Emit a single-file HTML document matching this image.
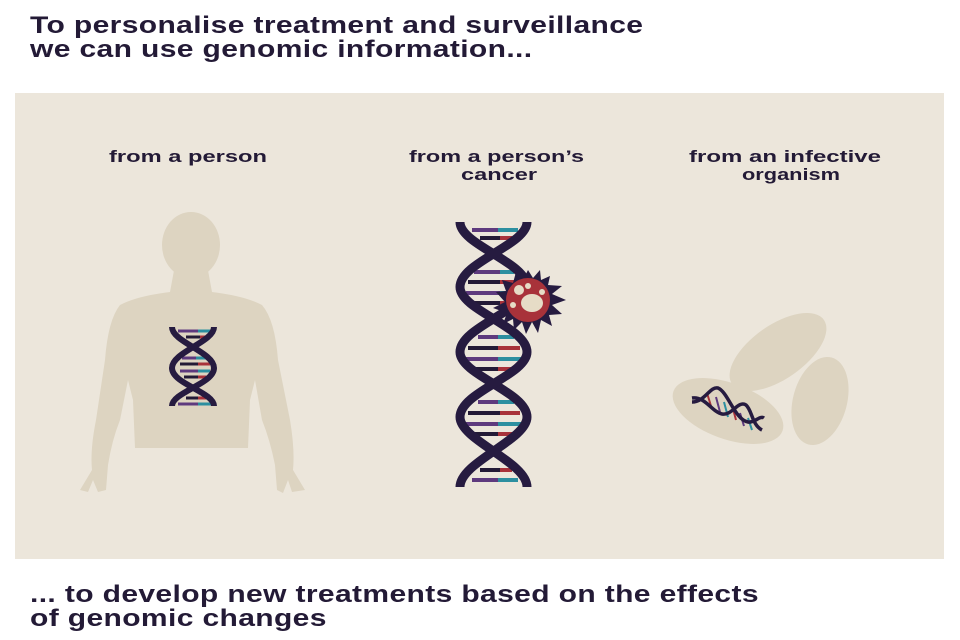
<!DOCTYPE html>
<html><head><meta charset="utf-8"><style>
body{margin:0;width:960px;height:640px;background:#fff;overflow:hidden;position:relative;font-family:"Liberation Sans",sans-serif;color:#231a36}
.t{position:absolute;font-weight:bold;font-size:24px;line-height:24px;letter-spacing:0.3px;transform:scaleX(1.25);transform-origin:0 0;white-space:nowrap}
</style></head><body>
<div class="t" style="left:30px;top:14px">To personalise treatment and surveillance<br>we can use genomic information...</div>
<svg style="position:absolute;left:0;top:0" width="960" height="640">
<rect x="15" y="93" width="929" height="466" fill="#ece6db"/>
<g font-family="Liberation Sans,sans-serif" font-size="17" font-weight="bold" fill="#231a36">
<text x="109" y="162" textLength="158" lengthAdjust="spacingAndGlyphs">from a person</text>
<text x="409" y="162" textLength="175" lengthAdjust="spacingAndGlyphs">from a person’s</text><text x="461" y="180" textLength="76" lengthAdjust="spacingAndGlyphs">cancer</text>
<text x="689" y="162" textLength="192" lengthAdjust="spacingAndGlyphs">from an infective</text><text x="742" y="180" textLength="98" lengthAdjust="spacingAndGlyphs">organism</text>
</g>
<g fill="#ddd4c1">
<ellipse cx="191" cy="245" rx="29" ry="33"/>
<path d="M175 265 L207 265 L212 292 Q245 296 262 305 Q275 320 278 360 L290 420 Q295 450 293 470 L305 490 L292 492 L288 480 L283 493 L277 490 L275 465 Q270 440 262 420 L255 380 L250 400 L248 448 L135 448 L133 400 L128 380 L120 420 Q112 440 108 465 L106 490 L98 492 L93 480 L88 492 L80 490 L92 470 Q90 450 96 420 L105 360 Q108 320 120 305 Q137 296 170 292 Z"/>
</g>
<g stroke-width="3">
<line x1="178" y1="331" x2="198" y2="331" stroke="#5e3a7e"/><line x1="198" y1="331" x2="212" y2="331" stroke="#2c8fa0"/>
<line x1="186" y1="337" x2="200" y2="337" stroke="#231a36"/><line x1="200" y1="337" x2="206" y2="337" stroke="#a8323a"/>
<line x1="182" y1="358" x2="196" y2="358" stroke="#5e3a7e"/><line x1="196" y1="358" x2="206" y2="358" stroke="#2c8fa0"/>
<line x1="180" y1="364" x2="198" y2="364" stroke="#231a36"/><line x1="198" y1="364" x2="210" y2="364" stroke="#a8323a"/>
<line x1="180" y1="371" x2="198" y2="371" stroke="#5e3a7e"/><line x1="198" y1="371" x2="210" y2="371" stroke="#2c8fa0"/>
<line x1="184" y1="377" x2="198" y2="377" stroke="#231a36"/><line x1="198" y1="377" x2="206" y2="377" stroke="#a8323a"/>
<line x1="186" y1="398" x2="198" y2="398" stroke="#231a36"/><line x1="198" y1="398" x2="206" y2="398" stroke="#a8323a"/>
<line x1="178" y1="404" x2="198" y2="404" stroke="#5e3a7e"/><line x1="198" y1="404" x2="212" y2="404" stroke="#2c8fa0"/>
</g>
<g fill="none" stroke="#261b40" stroke-width="6">
<path d="M172 327 C172 342,214 352,214 368 C214 384,172 392,172 406"/>
<path d="M214 327 C214 342,172 352,172 368 C172 384,214 392,214 406"/>
</g>
<g stroke-width="4">
<line x1="472" y1="230" x2="498" y2="230" stroke="#5e3a7e"/><line x1="498" y1="230" x2="518" y2="230" stroke="#2c8fa0"/>
<line x1="480" y1="238" x2="500" y2="238" stroke="#231a36"/><line x1="500" y1="238" x2="512" y2="238" stroke="#a8323a"/>
<line x1="474" y1="272" x2="500" y2="272" stroke="#5e3a7e"/><line x1="500" y1="272" x2="514" y2="272" stroke="#2c8fa0"/>
<line x1="468" y1="282" x2="500" y2="282" stroke="#231a36"/><line x1="500" y1="282" x2="516" y2="282" stroke="#a8323a"/>
<line x1="466" y1="293" x2="500" y2="293" stroke="#5e3a7e"/><line x1="500" y1="293" x2="518" y2="293" stroke="#2c8fa0"/>
<line x1="470" y1="303" x2="500" y2="303" stroke="#231a36"/><line x1="500" y1="303" x2="514" y2="303" stroke="#a8323a"/>
<line x1="478" y1="337" x2="498" y2="337" stroke="#5e3a7e"/><line x1="498" y1="337" x2="514" y2="337" stroke="#2c8fa0"/>
<line x1="468" y1="348" x2="498" y2="348" stroke="#231a36"/><line x1="498" y1="348" x2="520" y2="348" stroke="#a8323a"/>
<line x1="466" y1="359" x2="498" y2="359" stroke="#5e3a7e"/><line x1="498" y1="359" x2="522" y2="359" stroke="#2c8fa0"/>
<line x1="470" y1="369" x2="498" y2="369" stroke="#231a36"/><line x1="498" y1="369" x2="516" y2="369" stroke="#a8323a"/>
<line x1="478" y1="402" x2="498" y2="402" stroke="#5e3a7e"/><line x1="498" y1="402" x2="514" y2="402" stroke="#2c8fa0"/>
<line x1="468" y1="413" x2="500" y2="413" stroke="#231a36"/><line x1="500" y1="413" x2="520" y2="413" stroke="#a8323a"/>
<line x1="466" y1="424" x2="498" y2="424" stroke="#5e3a7e"/><line x1="498" y1="424" x2="522" y2="424" stroke="#2c8fa0"/>
<line x1="472" y1="434" x2="498" y2="434" stroke="#231a36"/><line x1="498" y1="434" x2="516" y2="434" stroke="#a8323a"/>
<line x1="480" y1="470" x2="500" y2="470" stroke="#231a36"/><line x1="500" y1="470" x2="512" y2="470" stroke="#a8323a"/>
<line x1="472" y1="480" x2="498" y2="480" stroke="#5e3a7e"/><line x1="498" y1="480" x2="518" y2="480" stroke="#2c8fa0"/>
</g>
<g fill="none" stroke="#261b40" stroke-width="9">
<path d="M460 222 C460 245,527 262,527 287 C527 310,460 327,460 352 C460 375,527 392,527 417 C527 440,460 462,460 487"/>
<path d="M527 222 C527 245,460 262,460 287 C460 310,527 327,527 352 C527 375,460 392,460 417 C460 440,527 462,527 487"/>
</g>
<g transform="translate(528,300)">
<polygon fill="#261b40" points="0,-30 5,-22 12,-30 13,-20 22,-24 20,-15 34,-14 24,-6 38,0 24,5 34,14 21,15 24,26 13,20 10,33 4,22 -2,34 -6,22 -14,30 -15,19 -25,24 -21,13 -35,8 -23,2 -32,-8 -22,-9 -26,-20 -15,-17 -12,-28 -5,-20"/>
<circle r="22" fill="#a8323a"/>
<ellipse cx="4" cy="3" rx="11" ry="9" fill="#e6dcc6"/>
<circle cx="-9" cy="-10" r="5" fill="#e6dcc6"/><circle cx="0" cy="-14" r="3" fill="#e6dcc6"/>
<circle cx="-15" cy="5" r="3" fill="#e6dcc6"/><circle cx="14" cy="-8" r="3" fill="#e6dcc6"/>
</g>
<g fill="#ddd4c1">
<ellipse cx="778" cy="352" rx="56" ry="27" transform="rotate(-35 778 352)"/>
<ellipse cx="820" cy="401" rx="27" ry="45" transform="rotate(15 820 401)"/>
<ellipse cx="728" cy="411" rx="58" ry="28" transform="rotate(20 728 411)"/>
</g>
<g stroke-width="2">
<line x1="707" y1="393" x2="711" y2="406" stroke="#a8323a"/><line x1="716" y1="397" x2="720" y2="412" stroke="#5e3a7e"/>
<line x1="724" y1="402" x2="728" y2="417" stroke="#2c8fa0"/><line x1="732" y1="405" x2="736" y2="420" stroke="#a8323a"/>
<line x1="740" y1="413" x2="744" y2="426" stroke="#5e3a7e"/><line x1="748" y1="418" x2="752" y2="430" stroke="#2c8fa0"/>
</g>
<g fill="none" stroke="#261b40" stroke-width="3.5">
<path d="M692 402 C705 402,710 386,718 388 C728 392,735 420,748 422 C755 423,760 415,764 418"/>
<path d="M692 398 C705 396,712 412,722 414 C732 416,738 400,746 405 C752 410,752 425,762 430"/>
</g>
</svg>
<div class="t" style="left:30px;top:583px">... to develop new treatments based on the effects<br>of genomic changes</div>
</body></html>
